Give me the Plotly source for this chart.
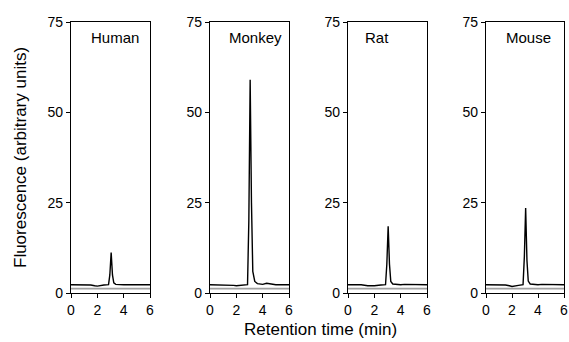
import plotly.graph_objects as go

W, H = 569, 342

species = ["Human", "Monkey", "Rat", "Mouse"]
time_min = [0, 0.5, 1, 1.5, 1.8, 2, 2.5, 2.85, 2.95, 3.05, 3.15, 3.25, 3.4, 3.6, 4, 4.3, 5, 6]
human = [2.3, 2.3, 2.3, 2.2, 2.0, 1.9, 2.2, 2.3, 5.0, 11.2, 5.0, 2.8, 2.4, 2.3, 2.3, 2.3, 2.3, 2.3]
monkey = [2.3, 2.3, 2.3, 2.2, 2.1, 2.0, 2.2, 2.3, 20.0, 59.0, 25.0, 6.0, 3.2, 2.6, 2.4, 2.7, 2.3, 2.3]
rat = [2.3, 2.3, 2.3, 2.0, 1.9, 2.0, 2.2, 2.3, 8.0, 18.5, 8.0, 3.2, 2.5, 2.4, 2.3, 2.4, 2.3, 2.3]
mouse = [2.3, 2.3, 2.3, 2.2, 2.0, 1.8, 2.1, 2.3, 10.0, 23.5, 9.0, 3.3, 2.5, 2.4, 2.3, 2.4, 2.3, 2.3]
control = [1.2, 1.2, 1.1, 1.2, 1.1, 1.1, 1.2, 1.1, 1.2, 1.2, 1.1, 1.2, 1.1, 1.2, 1.1, 1.2, 1.1, 1.2]
sample_series = [human, monkey, rat, mouse]

x_ticks = [0, 2, 4, 6]
y_ticks = [0, 25, 50, 75]

# pixel layout
px_domains = [(71, 150), (210, 289), (348, 427), (486, 564)]
label_centers_px = [115, 255, 377, 528]
y_top_px, y_bot_px = 22, 293

font = "Liberation Sans, Arial, Helvetica, sans-serif"
fig = go.Figure()

for i, (name, ys) in enumerate(zip(species, sample_series)):
    n = "" if i == 0 else str(i + 1)
    xa, ya = "x" + n, "y" + n
    fig.add_trace(go.Scatter(x=time_min, y=control, mode="lines",
                             line=dict(color="#a0a0a0", width=1.6),
                             xaxis=xa, yaxis=ya, showlegend=False))
    fig.add_trace(go.Scatter(x=time_min, y=ys, mode="lines",
                             line=dict(color="black", width=1.4),
                             xaxis=xa, yaxis=ya, showlegend=False))
    d0, d1 = px_domains[i]
    axis_common = dict(showline=True, linecolor="black", linewidth=1.3, mirror=True,
                       showgrid=False, zeroline=False, ticks="outside", ticklen=4,
                       tickwidth=1.3, tickcolor="black", automargin=False,
                       tickfont=dict(family=font, size=14, color="black"))
    fig.update_layout(**{
        "xaxis" + n: dict(domain=[d0 / W, d1 / W], range=[0, 6], tickvals=x_ticks,
                          anchor=ya, **axis_common),
        "yaxis" + n: dict(domain=[(H - y_bot_px) / H, (H - y_top_px) / H], range=[0, 75],
                          tickvals=y_ticks, anchor=xa, **axis_common),
    })
    fig.add_annotation(text=name, xref=xa + " domain", yref=ya + " domain",
                       x=(label_centers_px[i] - d0) / (d1 - d0), y=(y_bot_px - 37) / (y_bot_px - y_top_px),
                       xanchor="center", yanchor="middle", showarrow=False,
                       font=dict(family=font, size=15, color="black"))

p0, p1 = px_domains[0]
fig.add_annotation(text="Fluorescence (arbitrary units)", xref="x domain", yref="y domain",
                   x=(20 - p0) / (p1 - p0), y=(y_bot_px - 158) / (y_bot_px - y_top_px),
                   textangle=-90, showarrow=False, xanchor="center", yanchor="middle",
                   font=dict(family=font, size=17, color="black"))
fig.add_annotation(text="Retention time (min)", xref="x domain", yref="y domain",
                   x=(320 - p0) / (p1 - p0), y=(y_bot_px - 329) / (y_bot_px - y_top_px),
                   showarrow=False, xanchor="center", yanchor="middle",
                   font=dict(family=font, size=17, color="black"))

fig.update_layout(width=W, height=H, margin=dict(l=0, r=0, t=0, b=0, autoexpand=False),
                  plot_bgcolor="white", paper_bgcolor="white")
fig.write_html("out.html")
